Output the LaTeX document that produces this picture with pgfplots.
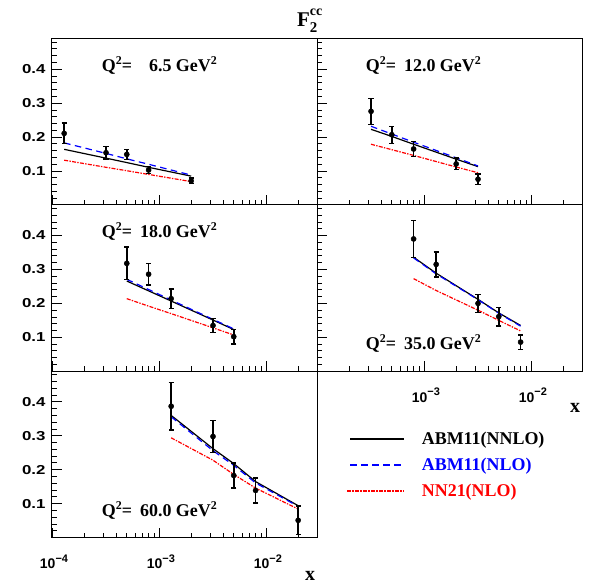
\documentclass[border=0pt]{standalone}
\usepackage{pgfplots}
\usepackage{pgfplotstable}
\pgfplotsset{compat=1.18}
\usepackage{fontspec}
\setmainfont{Liberation Serif}
\newfontfamily\hel{Liberation Sans}

\pgfplotstableread{
x y e
1.3e-4 0.211 0.030
3.2e-4 0.154 0.018
5.0e-4 0.149 0.015
8.0e-4 0.103 0.010
2.0e-3 0.071 0.008
}\dA
\pgfplotstableread{
x nnlo nlo nn
1.3e-4 0.164 0.183 0.132
3.2e-4 0.138 0.152 0.111
5.0e-4 0.125 0.136 0.101
8.0e-4 0.111 0.120 0.090
2.0e-3 0.085 0.088 0.069
}\tA
\pgfplotstableread{
x y e
3.2e-4 0.276 0.038
5.0e-4 0.207 0.025
8.0e-4 0.165 0.022
2.0e-3 0.121 0.017
3.2e-3 0.076 0.015
}\dB
\pgfplotstableread{
x nnlo nlo nn
3.2e-4 0.223 0.232 0.179
5.0e-4 0.202 0.209 0.163
8.0e-4 0.179 0.185 0.146
2.0e-3 0.135 0.139 0.112
3.2e-3 0.113 0.115 0.095
}\tB
\pgfplotstableread{
x y e
5.0e-4 0.318 0.048
8.0e-4 0.286 0.032
1.3e-3 0.214 0.029
3.2e-3 0.135 0.020
5.0e-3 0.102 0.021
}\dC
\pgfplotstableread{
x nnlo nlo nn
5.0e-4 0.266 0.271 0.214
8.0e-4 0.237 0.241 0.192
1.3e-3 0.207 0.210 0.170
3.2e-3 0.151 0.153 0.128
5.0e-3 0.123 0.125 0.107
}\tC
\pgfplotstableread{
x y e
8.0e-4 0.390 0.055
1.3e-3 0.315 0.037
3.2e-3 0.200 0.027
5.0e-3 0.161 0.027
8.0e-3 0.086 0.021
}\dD
\pgfplotstableread{
x nnlo nlo nn
8.0e-4 0.336 0.334 0.273
1.3e-3 0.289 0.287 0.238
3.2e-3 0.212 0.211 0.180
5.0e-3 0.172 0.171 0.150
8.0e-3 0.135 0.133 0.119
}\tD
\pgfplotstableread{
x y e
1.3e-3 0.387 0.070
3.2e-3 0.298 0.047
5.0e-3 0.183 0.037
8.0e-3 0.139 0.037
2.0e-2 0.051 0.042
}\dE
\pgfplotstableread{
x nnlo nlo nn
1.3e-3 0.360 0.356 0.294
3.2e-3 0.262 0.256 0.228
5.0e-3 0.218 0.213 0.186
8.0e-3 0.165 0.161 0.146
2.0e-2 0.094 0.092 0.084
}\tE

\newcommand{\tickfont}{\hel\bfseries\fontsize{14}{14}\selectfont}
\newcommand{\lblfont}{\bfseries\fontsize{18}{18}\selectfont}
\newcommand{\mexp}[1]{10\raisebox{6.5bp}{\fontsize{11}{11}\selectfont #1}}
\newcommand{\yl}[1]{\scalebox{1.3}[1]{\fontsize{13}{13}\selectfont #1}}
\newcommand{\qlab}[1]{\lblfont Q\raisebox{7bp}{\fontsize{12}{12}\selectfont 2}=\makebox[2.2em][r]{#1} GeV\raisebox{7bp}{\fontsize{12}{12}\selectfont 2}}

\tikzset{
  nnlo/.style={black, line width=1.2bp},
  nlo/.style={blue, line width=1.2bp, dash pattern=on 6.5bp off 4.5bp},
  nn/.style={red, line width=1.2bp, dash pattern=on 4bp off 1.3bp on 1.4bp off 1.3bp},
}
\pgfplotsset{
  panelstyle/.style={
    width=265bp, height=166.3bp, scale only axis,
    anchor=south west,
    xtick={1e-4,1e-3,1e-2},
    minor xtick={2e-4,3e-4,4e-4,5e-4,6e-4,7e-4,8e-4,9e-4,2e-3,3e-3,4e-3,5e-3,6e-3,7e-3,8e-3,9e-3,2e-2,3e-2},
    ytick={0.1,0.2,0.3,0.4},
    minor ytick={0.02,0.04,0.06,0.08,0.12,0.14,0.16,0.18,0.22,0.24,0.26,0.28,0.32,0.34,0.36,0.38,0.42,0.44,0.46,0.48},
    tick align=inside, tick pos=left,
    major tick length=10bp, minor tick length=5bp,
    xticklabels={}, yticklabels={},
    axis line style={line width=1bp},
    every tick/.style={black, line width=0.9bp},
    tick label style={font=\tickfont},
    yticklabel style={xshift=-3bp},
    xticklabel style={anchor=base, yshift=-31bp, xshift=2bp},
    clip=false,
  },
}

\newcommand{\panelplots}[2]{%
  \addplot[nnlo] table[x=x,y=nnlo] {#2};
  \addplot[nlo] table[x=x,y=nlo] {#2};
  \addplot[nn] table[x=x,y=nn] {#2};
  \addplot[black, only marks, mark=*, mark size=2.6bp,
    error bars/y dir=both, error bars/y explicit,
    error bars/error bar style={line width=1.7bp, black},
    error bars/error mark options={rotate=90, mark size=2.6bp, line width=1.4bp, black}]
    table[x=x,y=y,y error=e] {#1};
}

\begin{document}
\begin{tikzpicture}[x=1bp,y=1bp]
\path (0,0) rectangle (595,585);

% row 1
\begin{axis}[xmode=log, xmin=1e-4, xmax=0.03, ymin=0, ymax=0.49, panelstyle, at={(52bp,380bp)}, yticklabels={\yl{0.1},\yl{0.2},\yl{0.3},\yl{0.4}}]
\panelplots{\dA}{\tA}
\end{axis}
\begin{axis}[xmode=log, xmin=1e-4, xmax=0.03, ymin=0, ymax=0.49, panelstyle, at={(317bp,380bp)}]
\panelplots{\dB}{\tB}
\end{axis}
% row 2
\begin{axis}[xmode=log, xmin=1e-4, xmax=0.03, ymin=0, ymax=0.49, panelstyle, at={(52bp,213.7bp)}, yticklabels={\yl{0.1},\yl{0.2},\yl{0.3},\yl{0.4}}]
\panelplots{\dC}{\tC}
\end{axis}
\begin{axis}[xmode=log, xmin=1e-4, xmax=0.03, ymin=0, ymax=0.49, panelstyle, at={(317bp,213.7bp)}, xticklabels={,\mexp{−3},\mexp{−2}}]
\panelplots{\dD}{\tD}
\end{axis}
% row 3
\begin{axis}[xmode=log, xmin=1e-4, xmax=0.03, ymin=0, ymax=0.49, panelstyle, at={(52bp,47.4bp)}, yticklabels={\yl{0.1},\yl{0.2},\yl{0.3},\yl{0.4}}, xticklabels={\mexp{−4},\mexp{−3},\mexp{−2}}]
\panelplots{\dE}{\tE}
\end{axis}

% title
\node[anchor=base west, inner sep=0] at (297,558) {\bfseries\fontsize{21}{21}\selectfont F\rlap{\raisebox{-6bp}{\fontsize{15}{15}\selectfont 2}}\raisebox{11bp}{\fontsize{14}{14}\selectfont cc}};

% Q^2 labels
\node[anchor=base west, inner sep=0] at (101.7,513.3) {\qlab{6.5}};
\node[anchor=base west, inner sep=0] at (365.7,513.3) {\qlab{12.0}};
\node[anchor=base west, inner sep=0] at (101.7,347.7) {\qlab{18.0}};
\node[anchor=base west, inner sep=0] at (365.7,235) {\qlab{35.0}};
\node[anchor=base west, inner sep=0] at (101.7,68.3) {\qlab{60.0}};

% axis labels
\node[anchor=base, inner sep=0] at (575,172.3) {\bfseries\fontsize{20}{20}\selectfont x};
\node[anchor=base, inner sep=0] at (310,4.3) {\bfseries\fontsize{20}{20}\selectfont x};

% legend
\draw[nnlo] (350,146) -- (404,146);
\node[anchor=base west, inner sep=0] at (421.7,140.7) {\lblfont ABM11(NNLO)};
\draw[nlo] (350,120) -- (404,120);
\node[anchor=base west, inner sep=0, text=blue] at (421.7,114.7) {\lblfont ABM11(NLO)};
\draw[nn] (347,94) -- (404,94);
\node[anchor=base west, inner sep=0, text=red] at (421.7,88.2) {\lblfont NN21(NLO)};
\end{tikzpicture}
\end{document}
